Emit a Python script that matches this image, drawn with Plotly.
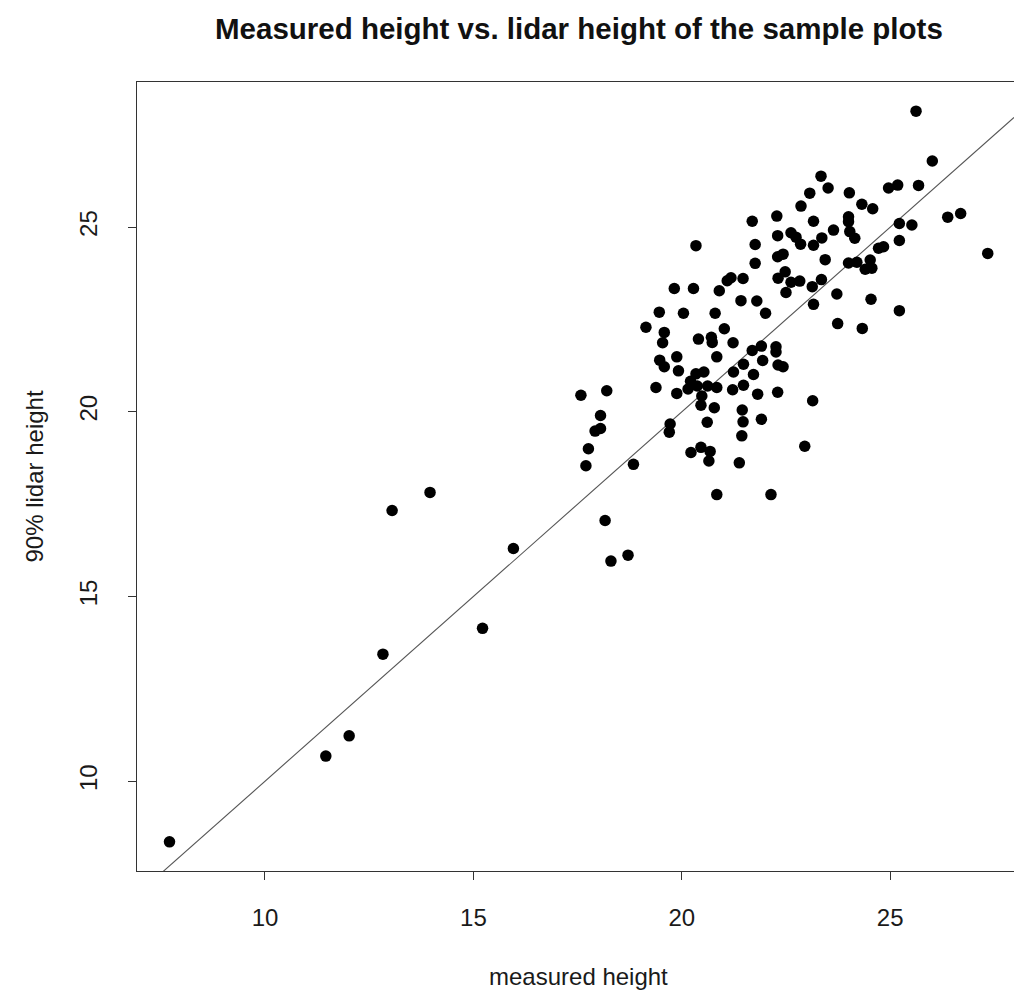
import plotly.graph_objects as go

# measured height (x) and 90% lidar height (y) of the sample plots
measured = [
    25.62, 26.01, 23.34, 23.51, 23.07, 24.02, 24.96, 25.18, 25.68, 22.86,
    24.32, 24.58, 22.28, 21.69, 23.16, 24.00, 24.00, 25.22, 25.52, 26.38,
    26.69, 23.64, 22.30, 22.62, 22.74, 22.85, 23.36, 24.03, 24.15, 25.22,
    23.16, 21.76, 20.34, 24.72, 24.84, 22.30, 22.43, 23.44, 27.34, 21.76,
    24.00, 24.20, 24.52, 24.40, 24.56, 22.48, 22.31, 21.18, 21.09, 21.47,
    22.62, 22.83, 23.35, 23.13, 22.50, 19.82, 20.28, 20.90, 23.72, 21.42,
    21.80, 24.54, 23.16, 25.22, 19.46, 20.04, 20.80, 22.01,
    23.74, 24.33, 19.14, 19.58, 19.54, 20.40, 20.71, 20.73, 21.02, 21.23,
    21.69, 21.91, 22.26, 22.26, 19.47, 19.58, 19.88, 20.84, 21.94, 21.48,
    22.31, 22.43, 19.92, 20.34, 20.53, 21.24, 21.72, 20.21, 20.37, 20.62,
    20.84, 20.15, 19.88, 20.48, 20.46, 20.78, 19.38, 21.22, 21.48, 21.82,
    22.30, 17.58, 18.20, 23.14, 21.45, 18.05, 20.61, 21.47, 21.91, 19.72,
    19.70, 21.44, 17.92, 18.05, 17.76, 17.70, 18.84, 20.22, 20.46, 20.68,
    20.65, 21.38, 22.95,
    20.84, 22.14, 18.16, 18.30, 18.71, 15.96, 15.22, 13.05, 13.96, 12.83,
    11.46, 12.02, 7.71,
]
lidar = [
    28.14, 26.79, 26.38, 26.06, 25.92, 25.93, 26.06, 26.14, 26.13, 25.57,
    25.62, 25.50, 25.30, 25.16, 25.16, 25.28, 25.15, 25.10, 25.06, 25.27,
    25.37, 24.92, 24.77, 24.85, 24.73, 24.54, 24.71, 24.88, 24.70, 24.64,
    24.51, 24.53, 24.50, 24.43, 24.47, 24.20, 24.27, 24.12, 24.29, 24.02,
    24.03, 24.05, 24.11, 23.86, 23.89, 23.79, 23.62, 23.63, 23.55, 23.61,
    23.51, 23.54, 23.58, 23.39, 23.23, 23.34, 23.34, 23.28, 23.19, 23.01,
    23.00, 23.05, 22.91, 22.74, 22.70, 22.67, 22.67, 22.67,
    22.39, 22.26, 22.29, 22.15, 21.87, 21.97, 22.02, 21.88, 22.25, 21.87,
    21.66, 21.78, 21.76, 21.62, 21.40, 21.22, 21.49, 21.49, 21.39, 21.29,
    21.27, 21.22, 21.11, 21.03, 21.08, 21.08, 21.01, 20.83, 20.70, 20.70,
    20.66, 20.62, 20.50, 20.43, 20.18, 20.11, 20.66, 20.60, 20.72, 20.48,
    20.53, 20.45, 20.57, 20.30, 20.05, 19.90, 19.72, 19.73, 19.80, 19.67,
    19.45, 19.35, 19.48, 19.55, 19.00, 18.54, 18.58, 18.90, 19.04, 18.93,
    18.67, 18.62, 19.07,
    17.76, 17.76, 17.06, 15.96, 16.12, 16.30, 14.14, 17.33, 17.82, 13.44,
    10.68, 11.23, 8.36,
]

x_ticks = [10, 15, 20, 25]
y_ticks = [10, 15, 20, 25]
x_range = [6.93, 27.97]
y_range = [7.57, 28.93]

# reference line y = a + b x
line_intercept = 0.0
line_slope = 1.0

FONT = "Liberation Sans, Arial, sans-serif"
LABEL_SIZE = 24

fig = go.Figure()
fig.add_trace(go.Scatter(
    x=x_range,
    y=[line_intercept + line_slope * v for v in x_range],
    mode="lines",
    line=dict(color="#555555", width=1.1),
    hoverinfo="skip",
    showlegend=False,
    cliponaxis=True,
))
fig.add_trace(go.Scatter(
    x=measured, y=lidar, mode="markers",
    marker=dict(size=11.5, color="black", line=dict(width=0)),
    showlegend=False,
))

fig.update_layout(
    width=1014, height=993,
    margin=dict(l=137, r=0, t=82, b=122),
    paper_bgcolor="white", plot_bgcolor="white",
    font=dict(family=FONT, size=LABEL_SIZE, color="#1a1a1a"),
    showlegend=False,
    xaxis=dict(
        range=x_range, tickvals=x_ticks, ticktext=[str(v) for v in x_ticks],
        showgrid=False, zeroline=False,
        showline=True, linecolor="#333333", linewidth=1.2, mirror=True,
        ticks="outside", ticklen=8, tickwidth=1, tickcolor="#333333",
        ticklabelstandoff=17,
        tickfont=dict(family=FONT, size=LABEL_SIZE, color="#1a1a1a"),
    ),
    yaxis=dict(
        range=y_range, tickvals=y_ticks, ticktext=[str(v) for v in y_ticks],
        showgrid=False, zeroline=False,
        showline=True, linecolor="#333333", linewidth=1.2, mirror=False,
        ticks="outside", ticklen=8, tickwidth=1, tickcolor="#333333",
        tickangle=-90, ticklabelstandoff=21,
        tickfont=dict(family=FONT, size=LABEL_SIZE, color="#1a1a1a"),
    ),
    annotations=[
        dict(text="<b>Measured height vs. lidar height of the sample plots</b>",
             xref="paper", yref="paper", x=(578.5 - 137) / 877, y=1,
             xanchor="center", yanchor="middle",
             yshift=82 - 28, showarrow=False,
             font=dict(family=FONT, size=29.5, color="#111111")),
        dict(text="measured height",
             xref="paper", yref="paper", x=(578.5 - 137) / 877, y=0,
             xanchor="center", yanchor="middle",
             yshift=-(976 - 871), showarrow=False,
             font=dict(family=FONT, size=LABEL_SIZE, color="#1a1a1a")),
        dict(text="90% lidar height",
             xref="paper", yref="paper", x=0, y=0.5,
             xanchor="center", yanchor="middle", textangle=-90,
             xshift=-(137 - 34), showarrow=False,
             font=dict(family=FONT, size=LABEL_SIZE, color="#1a1a1a")),
    ],
)

fig.write_html("out.html")
